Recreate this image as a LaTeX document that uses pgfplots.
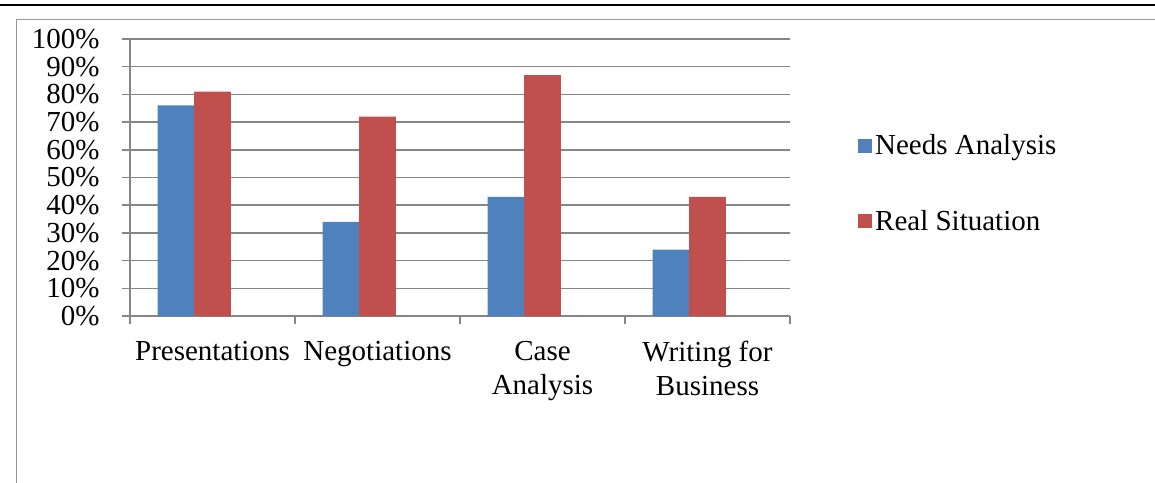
\documentclass[border=0pt]{standalone}
\usepackage{pgfplots}
\pgfplotsset{compat=1.18}
\usepackage{fontspec}
\setmainfont{Liberation Serif}
\definecolor{needsblue}{RGB}{79,129,189}
\definecolor{realred}{RGB}{192,80,77}
\definecolor{gridgray}{RGB}{134,134,134}
\definecolor{framegray}{RGB}{150,150,150}
\newcommand{\chartfont}{\fontsize{17.4}{20.5}\selectfont}

\begin{document}
\begin{tikzpicture}
% page frame: 1 px = 0.6pt
\path[use as bounding box] (0pt,0pt) rectangle (693pt,289.2pt);
\draw[line width=1.2pt, black] (0pt,286.2pt) -- (693pt,286.2pt);
\draw[line width=0.9pt, framegray] (9.9pt,-5pt) -- (9.9pt,277.5pt) -- (700pt,277.5pt);
\begin{axis}[
  scale only axis,
  width=396pt, height=166.2pt,
  at={(78pt,99.6pt)}, anchor=south west,
  ybar, bar width=0.222,
  xmin=0.5, xmax=4.5,
  ymin=0, ymax=100,
  axis x line*=bottom, axis y line*=left,
  axis line style={gridgray, line width=0.9pt},
  xtick={0.5,1.5,2.5,3.5,4.5},
  xticklabels={},
  extra x ticks={1,2,3,4},
  extra x tick labels={Presentations, Negotiations, {Case\\Analysis}, {Writing for\\Business}},
  extra x tick style={major tick length=0pt},
  xticklabel style={align=center, font=\chartfont, yshift=-11.4pt},
  ytick={0,10,...,100},
  yticklabel={\pgfmathprintnumber{\tick}\%},
  yticklabel style={font=\chartfont, xshift=-10pt},
  /pgf/number format/assume math mode=true,
  ymajorgrids,
  grid style={gridgray, line width=0.9pt},
  tick align=outside,
  major tick length=4.8pt,
  tick style={gridgray, line width=0.9pt},
  legend style={at={(axis description cs:1,0.5)}, anchor=west, xshift=40.5pt, yshift=-3.6pt,
    draw=none, fill=none, font=\chartfont, row sep=28pt, inner sep=0pt},
  legend cell align=left,
  legend image code/.code={\fill[#1] (-1.8pt,-4.2pt) rectangle (6.6pt,4.2pt);},
]
\addplot[fill=needsblue, draw=none, bar shift=-0.222] coordinates {(1,76) (2,34) (3,43) (4,24)};
\addlegendentry{Needs Analysis}
\addplot[fill=realred, draw=none, bar shift=0] coordinates {(1,81) (2,72) (3,87) (4,43)};
\addlegendentry{Real Situation}
\end{axis}
\end{tikzpicture}
\end{document}
